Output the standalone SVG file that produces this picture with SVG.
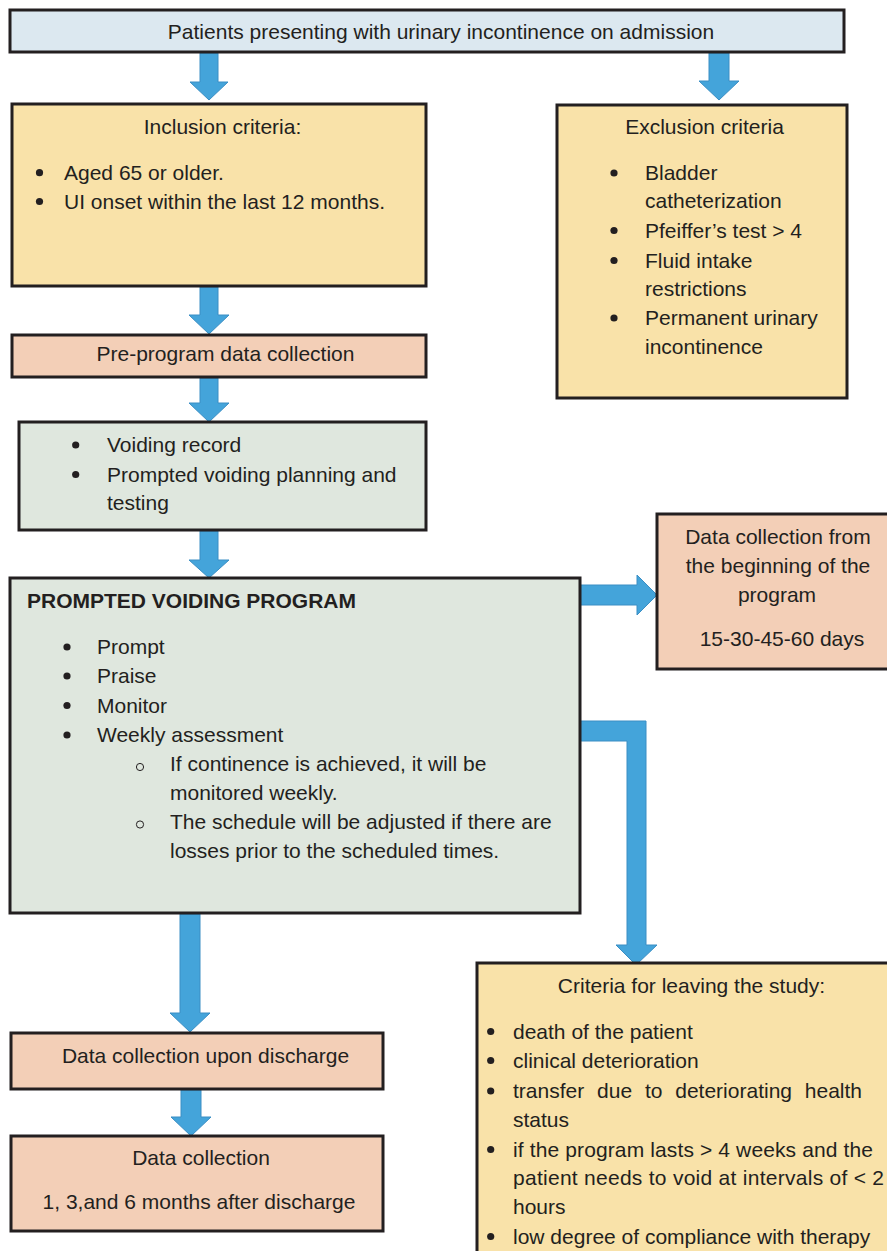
<svg xmlns="http://www.w3.org/2000/svg" width="887" height="1251" viewBox="0 0 887 1251">
<style>
.box{stroke:#231f20;stroke-width:3}
.blue{fill:#dce8f0}
.yel{fill:#f9e2a9}
.sal{fill:#f3cfb7}
.grn{fill:#dfe7de}
text{font-family:"Liberation Sans",Arial,Helvetica,sans-serif;font-size:21px;fill:#231f20}
.c{text-anchor:middle}
.b{font-weight:bold}
.dot{fill:#231f20}
.ring{fill:none;stroke:#231f20;stroke-width:1}
.arr{fill:#44a4da;stroke:#3a8ec4;stroke-width:1}
</style>
<defs>
<circle id="bul" r="3.6" class="dot"/>
<circle id="sub" r="3.6" class="ring"/>
</defs>
<rect width="887" height="1251" fill="#ffffff"/>
<g id="connectors">
<polygon class="arr" points="200,53 218,53 218,82 228,82 209,100 190,82 200,82"/>
<polygon class="arr" points="709,53 729,53 729,81 739,81 719,100 699,81 709,81"/>
<polygon class="arr" points="200,287 218,287 218,315 229,315 209,334 189,315 200,315"/>
<polygon class="arr" points="200,378 218,378 218,403 229,403 209,422 189,403 200,403"/>
<polygon class="arr" points="200,531 218,531 218,560 229,560 209,578 189,560 200,560"/>
<polygon class="arr" points="580,585 637,585 637,575 657,595 637,615 637,605 580,605"/>
<polygon class="arr" points="580,721 646,721 646,945 657,945 636,965 616,945 627,945 627,741 580,741"/>
<polygon class="arr" points="180,914 200,914 200,1013 210,1013 190,1032 170,1013 180,1013"/>
<polygon class="arr" points="181,1090 201,1090 201,1117 211,1117 191,1136 171,1117 181,1117"/>
</g>
<g id="admission">
<rect class="box blue" x="10" y="10" width="834" height="42"/>
<text class="c" x="441" y="39">Patients presenting with urinary incontinence on admission</text>
</g>
<g id="inclusion">
<rect class="box yel" x="12" y="104" width="414" height="182"/>
<text class="c" x="222.5" y="134">Inclusion criteria:</text>
<use href="#bul" x="39.5" y="172.7"/><text x="64" y="180">Aged 65 or older.</text>
<use href="#bul" x="39.5" y="201.5"/><text x="64" y="208.5">UI onset within the last 12 months.</text>
</g>
<g id="exclusion">
<rect class="box yel" x="557" y="105" width="290" height="293"/>
<text class="c" x="704.5" y="134">Exclusion criteria</text>
<use href="#bul" x="614" y="173"/><text x="645" y="180">Bladder</text>
<text x="645" y="208">catheterization</text>
<use href="#bul" x="614" y="230.5"/><text x="645" y="237.5">Pfeiffer’s test &gt; 4</text>
<use href="#bul" x="614" y="260.5"/><text x="645" y="267.5">Fluid intake</text>
<text x="645" y="295.5">restrictions</text>
<use href="#bul" x="614" y="318"/><text x="645" y="325">Permanent urinary</text>
<text x="645" y="354">incontinence</text>
</g>
<g id="preprogram">
<rect class="box sal" x="12" y="335" width="414" height="42"/>
<text class="c" x="225.5" y="361">Pre-program data collection</text>
</g>
<g id="voiding">
<rect class="box grn" x="19" y="422" width="407" height="108"/>
<use href="#bul" x="75.7" y="445"/><text x="107" y="452">Voiding record</text>
<use href="#bul" x="75.7" y="474.5"/><text x="107" y="481.5">Prompted voiding planning and</text>
<text x="107" y="510">testing</text>
</g>
<g id="program">
<rect class="box grn" x="10" y="578" width="570" height="335"/>
<text class="b" x="27" y="608">PROMPTED VOIDING PROGRAM</text>
<use href="#bul" x="67" y="647"/><text x="97" y="654">Prompt</text>
<use href="#bul" x="67" y="676"/><text x="97" y="683">Praise</text>
<use href="#bul" x="67" y="705.5"/><text x="97" y="712.5">Monitor</text>
<use href="#bul" x="67" y="735"/><text x="97" y="742">Weekly assessment</text>
<use href="#sub" x="140" y="767"/><text x="170" y="771">If continence is achieved, it will be</text>
<text x="170" y="800">monitored weekly.</text>
<use href="#sub" x="140" y="824.5"/><text x="170" y="829">The schedule will be adjusted if there are</text>
<text x="170" y="857.5">losses prior to the scheduled times.</text>
</g>
<g id="datafrom">
<rect class="box sal" x="657" y="514" width="245" height="155"/>
<text class="c" x="778" y="544">Data collection from</text>
<text class="c" x="778" y="573">the beginning of the</text>
<text class="c" x="777" y="602">program</text>
<text class="c" x="782" y="646">15-30-45-60 days</text>
</g>
<g id="leaving">
<rect class="box yel" x="477" y="963" width="425" height="300"/>
<text class="c" x="691.5" y="993">Criteria for leaving the study:</text>
<use href="#bul" x="490.7" y="1031.5"/><text x="513" y="1038.5">death of the patient</text>
<use href="#bul" x="490.7" y="1060.5"/><text x="513" y="1067.5">clinical deterioration</text>
<use href="#bul" x="490.7" y="1091"/><text x="513" y="1098" word-spacing="7">transfer due to deteriorating health</text>
<text x="513" y="1127">status</text>
<use href="#bul" x="490.7" y="1149.5"/><text x="513" y="1156.5" textLength="360" lengthAdjust="spacing">if the program lasts &gt; 4 weeks and the</text>
<text x="513" y="1185" textLength="371" lengthAdjust="spacing">patient needs to void at intervals of &lt; 2</text>
<text x="513" y="1213.5">hours</text>
<use href="#bul" x="490.7" y="1236.5"/><text x="513" y="1243.5">low degree of compliance with therapy</text>
</g>
<g id="discharge">
<rect class="box sal" x="11" y="1033" width="372" height="56"/>
<text class="c" x="205.5" y="1063">Data collection upon discharge</text>
</g>
<g id="followup">
<rect class="box sal" x="11" y="1136" width="372" height="95"/>
<text class="c" x="201" y="1164.5">Data collection</text>
<text class="c" x="199" y="1208.5">1, 3,and 6 months after discharge</text>
</g>
</svg>
